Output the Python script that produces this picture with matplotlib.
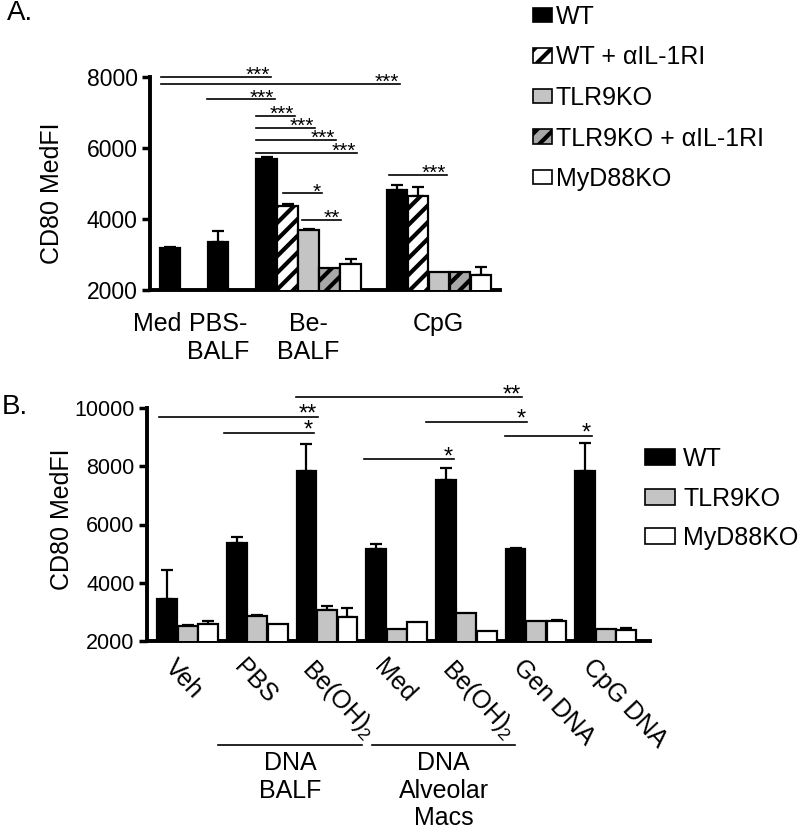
import numpy as np
import matplotlib
matplotlib.use('Agg')
import matplotlib.pyplot as plt
from matplotlib.patches import Patch

plt.rcParams['font.family'] = ['Liberation Sans', 'DejaVu Sans']
plt.rcParams['mathtext.fontset'] = 'custom'
plt.rcParams['mathtext.rm'] = 'Liberation Sans'
plt.rcParams['hatch.linewidth'] = 3

nan = np.nan

# ---- panel A data ----
a_groups = ['Med', 'PBS-\nBALF', 'Be-\nBALF', 'CpG']
a_series = ['WT', 'WT + αIL-1RI', 'TLR9KO', 'TLR9KO + αIL-1RI', 'MyD88KO']
a_wt = [3170, 3360, 5680, 4820]
a_wt_err = [50, 310, 75, 140]
a_wt_il = [nan, nan, 4370, 4650]
a_wt_il_err = [nan, nan, 55, 245]
a_tlr = [nan, nan, 3690, 2500]
a_tlr_err = [nan, nan, 37, 0]
a_tlr_il = [nan, nan, 2630, 2500]
a_tlr_il_err = [nan, nan, 0, 0]
a_myd = [nan, nan, 2720, 2420]
a_myd_err = [nan, nan, 160, 230]
a_start = [0, 2.3, 4.6, 10.8]
a_label_x = [-0.6, 2.3, 6.6, 12.8]
# significance bars: x from, x to, height, stars
a_sig = [(-0.43, 4.81, 8000, '***'), (-0.43, 10.95, 7810, '***'),
         (1.76, 5.0, 7370, '***'), (4.1, 5.95, 6900, '***'),
         (4.1, 6.9, 6570, '***'), (4.1, 7.9, 6225, '***'),
         (4.1, 8.9, 5870, '***'), (5.38, 7.24, 4720, '*'),
         (6.29, 8.14, 3970, '**'), (10.43, 13.19, 5250, '***')]

# ---- panel B data ----
b_groups = ['Veh', 'PBS', r'Be(OH)$_2$', 'Med', r'Be(OH)$_2$', 'Gen DNA', 'CpG DNA']
b_series = ['WT', 'TLR9KO', 'MyD88KO']
b_wt = [3450, 5380, 7840, 5160, 7530, 5150, 7840]
b_wt_err = [990, 200, 920, 170, 400, 30, 950]
b_tlr = [2500, 2870, 3060, 2420, 2970, 2700, 2420]
b_tlr_err = [50, 30, 150, 0, 0, 0, 0]
b_myd = [2570, 2600, 2830, 2660, 2340, 2690, 2380]
b_myd_err = [130, 0, 310, 0, 0, 30, 60]
b_sig = [(6.29, 17.32, 10367, '**'), (-0.39, 7.37, 9700, '**'),
         (2.78, 7.17, 9152, '*'), (9.61, 14.0, 8249, '*'),
         (12.63, 17.56, 9530, '*'), (16.49, 20.73, 9049, '*')]
b_brackets = [(2.49, 9.51, 'DNA\nBALF'), (10.0, 16.98, 'DNA\nAlveolar\nMacs')]

styles = {
    'WT': dict(facecolor='black', hatch=None),
    'WT + αIL-1RI': dict(facecolor='white', hatch='//'),
    'TLR9KO': dict(facecolor='#c4c4c4', hatch=None),
    'TLR9KO + αIL-1RI': dict(facecolor='#a8a8a8', hatch='//'),
    'MyD88KO': dict(facecolor='white', hatch=None),
}


def draw_bars(ax, xs, vals, errs, name):
    xs = np.asarray(xs, float)
    vals = np.asarray(vals, float)
    errs = np.asarray(errs, float)
    ok = ~np.isnan(vals)
    st = styles[name]
    ax.bar(xs[ok], vals[ok], width=0.97, color=st['facecolor'], edgecolor='black',
           linewidth=1.6, hatch=st['hatch'], zorder=3)
    e = ok & (errs > 0)
    ax.errorbar(xs[e], vals[e], yerr=[np.zeros(e.sum()), errs[e]], fmt='none',
                ecolor='black', elinewidth=1.6, capsize=4, capthick=1.6, zorder=2)


def style_axis(ax):
    for s in ['top', 'right']:
        ax.spines[s].set_visible(False)
    for s in ['left', 'bottom']:
        ax.spines[s].set_linewidth(2.8)
    ax.tick_params(axis='y', length=6, width=2.5, pad=3)
    ax.tick_params(axis='x', length=0)


def draw_sig(ax, sig, fs):
    for x0, x1, y, stars in sig:
        ax.plot([x0, x1], [y, y], color='black', lw=1.2, clip_on=False)
        ax.annotate(stars, (x1, y), xytext=(-1, -3), textcoords='offset points',
                    ha='right', va='baseline', fontsize=fs, annotation_clip=False)


fig = plt.figure(figsize=(8, 8.32), dpi=100)

# ---------------- Panel A ----------------
axA = fig.add_axes([150 / 800, 1 - 290 / 832, 350 / 800, 213 / 832])
series_a = [(a_wt, a_wt_err), (a_wt_il, a_wt_il_err), (a_tlr, a_tlr_err),
            (a_tlr_il, a_tlr_il_err), (a_myd, a_myd_err)]
for i, (vals, errs) in enumerate(series_a):
    draw_bars(axA, [s + i for s in a_start], vals, errs, a_series[i])
axA.set_xlim(-0.95, 15.71)
axA.set_ylim(2000, 8000)
axA.set_yticks([2000, 4000, 6000, 8000])
axA.set_xticks(a_label_x)
axA.set_xticklabels(a_groups, fontsize=18)
axA.tick_params(axis='x', pad=16)
axA.tick_params(axis='y', labelsize=16.5)
style_axis(axA)
axA.set_ylabel('CD80 MedFI', fontsize=18)
axA.yaxis.set_label_coords(-0.245, 0.453)
draw_sig(axA, a_sig, 15)

handlesA = [Patch(facecolor=styles[n]['facecolor'], edgecolor='black', linewidth=1.2,
                  hatch=styles[n]['hatch'], label=n) for n in a_series]
fig.legend(handles=handlesA, loc='upper left', bbox_to_anchor=(533 / 800, 1 - 5 / 832),
           frameon=False, borderpad=0, borderaxespad=0, fontsize=18,
           handlelength=0.76, handleheight=0.52, handletextpad=0.15, labelspacing=0.66)

fig.text(7 / 800, 1.0, 'A.', fontsize=20, va='top', ha='left')

# ---------------- Panel B ----------------
axB = fig.add_axes([147 / 800, 1 - 641 / 832, 503 / 800, 233 / 832])
gap = 3.4
b_start = [gap * k for k in range(len(b_groups))]
series_b = [(b_wt, b_wt_err), (b_tlr, b_tlr_err), (b_myd, b_myd_err)]
for i, (vals, errs) in enumerate(series_b):
    draw_bars(axB, [s + i for s in b_start], vals, errs, b_series[i])
axB.set_xlim(-0.98, 23.56)
axB.set_ylim(2000, 10000)
axB.set_yticks([2000, 4000, 6000, 8000, 10000])
axB.set_xticks([s + 0.5 for s in b_start])
axB.set_xticklabels(b_groups, fontsize=18, rotation=-47, ha='left', va='top',
                    rotation_mode='anchor')
axB.tick_params(axis='x', pad=10)
axB.tick_params(axis='y', labelsize=15.5)
style_axis(axB)
axB.set_ylabel('CD80 MedFI', fontsize=18)
axB.yaxis.set_label_coords(-0.145, 0.524)
draw_sig(axB, b_sig, 17)

tr = axB.get_xaxis_transform()
for x0, x1, txt in b_brackets:
    axB.plot([x0, x1], [-0.447, -0.447], color='black', lw=1.2, transform=tr, clip_on=False)
    axB.text((x0 + x1) / 2, -0.474, txt, transform=tr, ha='center', va='top',
             fontsize=18, linespacing=1.18)

handlesB = [Patch(facecolor=styles[n]['facecolor'], edgecolor='black', linewidth=1.2,
                  label=n) for n in b_series]
fig.legend(handles=handlesB, loc='upper left', bbox_to_anchor=(645 / 800, 1 - 447 / 832),
           frameon=False, borderpad=0, borderaxespad=0, fontsize=18,
           handlelength=1.2, handleheight=0.6, handletextpad=0.32, labelspacing=0.62)

fig.text(0.002, 1 - 394 / 832, 'B.', fontsize=20, va='top', ha='left')

fig.savefig('out.png', dpi=100)
